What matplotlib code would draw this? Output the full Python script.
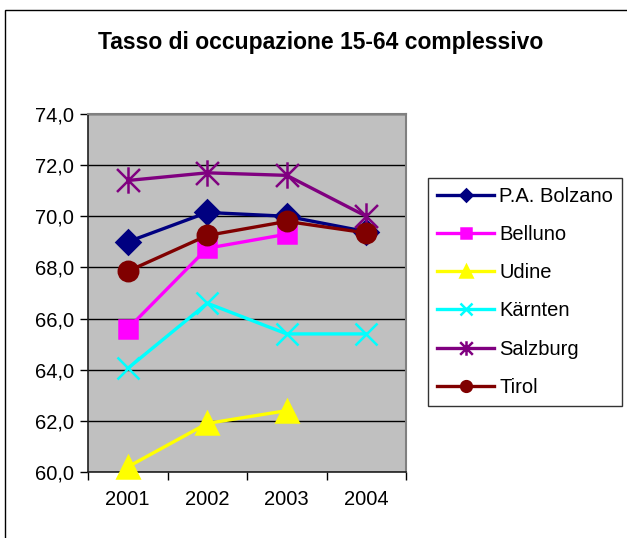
import matplotlib
matplotlib.use("Agg")
import matplotlib.pyplot as plt
import matplotlib.patches as patches
from matplotlib.path import Path
import numpy as np

plt.rcParams['font.family'] = ['Liberation Sans', 'DejaVu Sans']

years = ["2001", "2002", "2003", "2004"]
bolzano = [69.0, 70.15, 70.0, 69.4]
belluno = [65.6, 68.75, 69.3, np.nan]
udine = [60.2, 61.9, 62.4, np.nan]
kaernten = [64.05, 66.6, 65.4, 65.4]
salzburg = [71.4, 71.7, 71.6, 70.0]
tirol = [67.85, 69.25, 69.8, 69.35]
y_ticks = [60, 62, 64, 66, 68, 70, 72, 74]

# excel style asterisk: an x with a vertical bar
star = Path([(-1, -1), (1, 1), (-1, 1), (1, -1), (0, -1.15), (0, 1.15)],
            [Path.MOVETO, Path.LINETO, Path.MOVETO, Path.LINETO,
             Path.MOVETO, Path.LINETO])

series = [
    ("P.A. Bolzano", bolzano, "#000080", "D", 12),
    ("Belluno", belluno, "#FF00FF", "s", 13),
    ("Udine", udine, "#FFFF00", "^", 16),
    ("Kärnten", kaernten, "#00FFFF", "x", 16),
    ("Salzburg", salzburg, "#800080", star, 19),
    ("Tirol", tirol, "#800000", "o", 14),
]

fig = plt.figure(figsize=(6.27, 5.38), dpi=100)
ax = fig.add_axes([88/627, 1-472/538, 318/627, 358/538])
ax.set_facecolor("#C0C0C0")

x = np.arange(1, len(years) + 1)
for name, vals, color, mk, ms in series:
    ax.plot(x, vals, color=color, lw=2.4, marker=mk, markersize=ms,
            markeredgewidth=1.8, markerfacecolor=color, markeredgecolor=color,
            label=name, clip_on=False, zorder=3)

ax.set_xlim(0.5, len(years) + 0.5)
ax.set_ylim(60, 74)
ax.set_yticks(y_ticks)
ax.set_yticklabels([f"{v:.1f}".replace(".", ",") for v in y_ticks])
ax.set_xticks(x)
ax.set_xticklabels(years)
ax.set_xticks(np.arange(0.5, len(years) + 1), minor=True)
ax.tick_params(axis="x", which="major", length=0, pad=13, labelsize=14.5)
ax.tick_params(axis="x", which="minor", length=6, width=1, direction="out")
ax.tick_params(axis="y", length=6, width=1, direction="out", pad=4, labelsize=14.5)
ax.grid(axis="y", color="black", lw=1)
ax.set_axisbelow(True)
for side in ["top", "right"]:
    ax.spines[side].set_color("#808080")
    ax.spines[side].set_linewidth(1.5)
for side in ["left", "bottom"]:
    ax.spines[side].set_color("#202020")
    ax.spines[side].set_linewidth(1.2)

fig.text(321/627, 1-42/538, "Tasso di occupazione 15-64 complessivo",
         ha="center", va="center", fontsize=16.5, fontweight="bold")

leg = fig.legend(loc="upper left", bbox_to_anchor=(428/627, 1-178/538),
                 fontsize=14.5, frameon=True, fancybox=False, markerscale=0.55,
                 labelspacing=0.95, handlelength=2.85, handletextpad=0.25,
                 borderpad=0.45, borderaxespad=0)
leg.get_frame().set_edgecolor("black")
leg.get_frame().set_linewidth(1)

# outer chart border, cut off at the right and bottom
fig.patches.append(patches.Rectangle((5/627, -0.1), 2, (528/538) + 0.1,
                                     transform=fig.transFigure, fill=False,
                                     edgecolor="black", lw=1))

plt.savefig("out.png", dpi=100)
